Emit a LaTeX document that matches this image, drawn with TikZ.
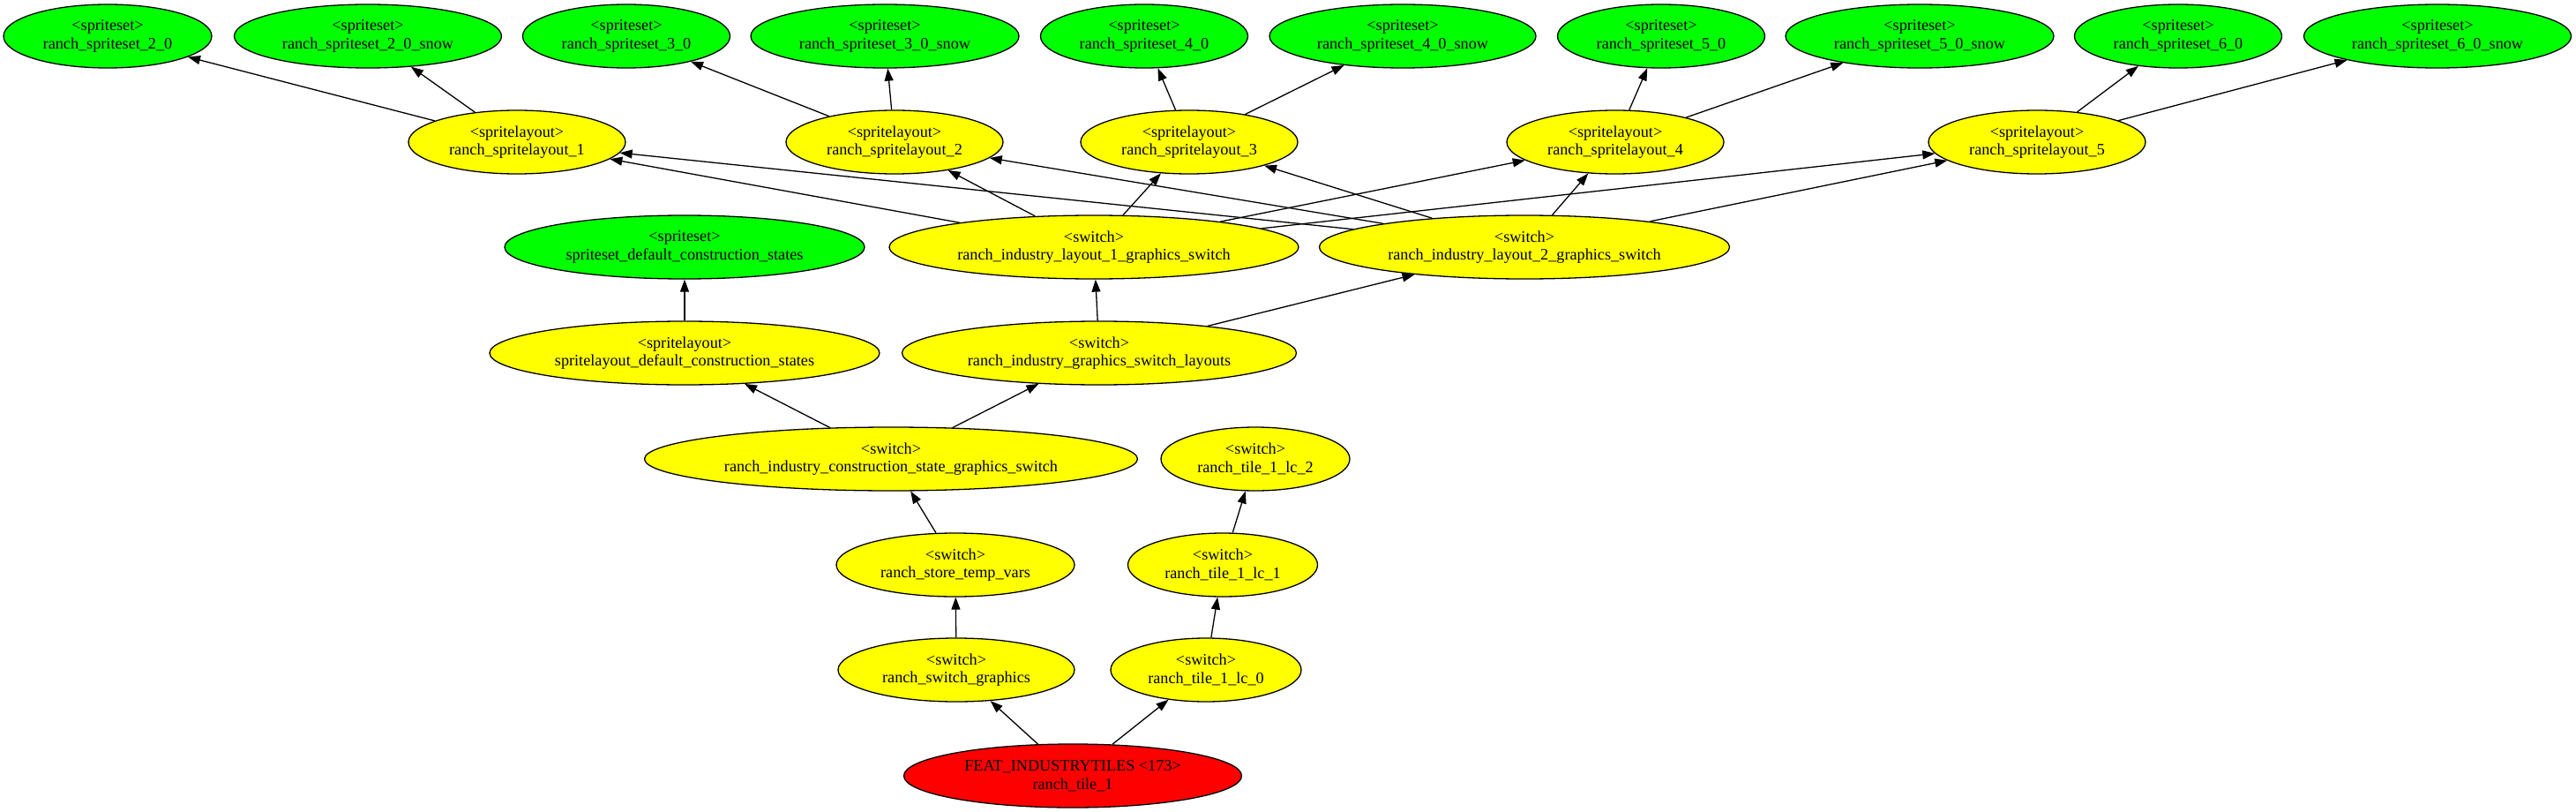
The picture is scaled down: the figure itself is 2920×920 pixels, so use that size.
\documentclass[tikz,border=0pt]{standalone}
\usepackage{fontspec}
\setmainfont{Liberation Serif}
\usetikzlibrary{shapes.geometric,arrows.meta}
\tikzset{
  gnode/.style={ellipse, draw=black, line width=1.3pt, inner sep=0pt, minimum height=72pt, align=center, font=\fontsize{18.2}{20.5}\selectfont},
  sset/.style={gnode, fill={rgb,255:red,0;green,255;blue,0}},
  sw/.style={gnode, fill={rgb,255:red,255;green,255;blue,0}},
  rootn/.style={gnode, fill={rgb,255:red,255;green,0;blue,0}},
  edge/.style={draw=black, line width=1.3pt, -{Triangle[length=14pt,width=10pt]}}
}
\begin{document}
\begin{tikzpicture}[x=1pt,y=-1pt]
\useasboundingbox (0,0) rectangle (2920,920);
% row 1
\node[sset, minimum width=236pt] (ss20) at (122,41) {<spriteset>\\ranch\_spriteset\_2\_0};
\node[sset, minimum width=303pt] (ss20s) at (417,41) {<spriteset>\\ranch\_spriteset\_2\_0\_snow};
\node[sset, minimum width=235pt] (ss30) at (710,41) {<spriteset>\\ranch\_spriteset\_3\_0};
\node[sset, minimum width=304pt] (ss30s) at (1003,41) {<spriteset>\\ranch\_spriteset\_3\_0\_snow};
\node[sset, minimum width=235pt] (ss40) at (1297,41) {<spriteset>\\ranch\_spriteset\_4\_0};
\node[sset, minimum width=302pt] (ss40s) at (1590,41) {<spriteset>\\ranch\_spriteset\_4\_0\_snow};
\node[sset, minimum width=235pt] (ss50) at (1883,41) {<spriteset>\\ranch\_spriteset\_5\_0};
\node[sset, minimum width=304pt] (ss50s) at (2176,41) {<spriteset>\\ranch\_spriteset\_5\_0\_snow};
\node[sset, minimum width=235pt] (ss60) at (2469,41) {<spriteset>\\ranch\_spriteset\_6\_0};
\node[sset, minimum width=303pt] (ss60s) at (2763,41) {<spriteset>\\ranch\_spriteset\_6\_0\_snow};
% row 2
\node[sw, minimum width=246pt] (sl1) at (586,161) {<spritelayout>\\ranch\_spritelayout\_1};
\node[sw, minimum width=246pt] (sl2) at (1014,161) {<spritelayout>\\ranch\_spritelayout\_2};
\node[sw, minimum width=246pt] (sl3) at (1348,161) {<spritelayout>\\ranch\_spritelayout\_3};
\node[sw, minimum width=246pt] (sl4) at (1831,161) {<spritelayout>\\ranch\_spritelayout\_4};
\node[sw, minimum width=246pt] (sl5) at (2309,161) {<spritelayout>\\ranch\_spritelayout\_5};
% row 3
\node[sset, minimum width=408pt] (ssdef) at (776,280) {<spriteset>\\spriteset\_default\_construction\_states};
\node[sw, minimum width=464pt] (ils1) at (1240,280) {<switch>\\ranch\_industry\_layout\_1\_graphics\_switch};
\node[sw, minimum width=465pt] (ils2) at (1728,280) {<switch>\\ranch\_industry\_layout\_2\_graphics\_switch};
% row 4
\node[sw, minimum width=442pt] (sldef) at (776,400) {<spritelayout>\\spritelayout\_default\_construction\_states};
\node[sw, minimum width=447pt] (igsl) at (1246,400) {<switch>\\ranch\_industry\_graphics\_switch\_layouts};
% row 5
\node[sw, minimum width=559pt] (icsgs) at (1010,520) {<switch>\\ranch\_industry\_construction\_state\_graphics\_switch};
\node[sw, minimum width=214pt] (lc2) at (1423,520) {<switch>\\ranch\_tile\_1\_lc\_2};
% row 6
\node[sw, minimum width=270pt] (stv) at (1083,640) {<switch>\\ranch\_store\_temp\_vars};
\node[sw, minimum width=215pt] (lc1) at (1386,640) {<switch>\\ranch\_tile\_1\_lc\_1};
% row 7
\node[sw, minimum width=268pt] (sg) at (1084,759) {<switch>\\ranch\_switch\_graphics};
\node[sw, minimum width=216pt] (lc0) at (1367,759) {<switch>\\ranch\_tile\_1\_lc\_0};
% row 8
\node[rootn, minimum width=383pt] (root) at (1216,879) {FEAT\_INDUSTRYTILES <173>\\ranch\_tile\_1};
% edges
\draw[edge] (sl1) -- (ss20);
\draw[edge] (sl1) -- (ss20s);
\draw[edge] (sl2) -- (ss30);
\draw[edge] (sl2) -- (ss30s);
\draw[edge] (sl3) -- (ss40);
\draw[edge] (sl3) -- (ss40s);
\draw[edge] (sl4) -- (ss50);
\draw[edge] (sl4) -- (ss50s);
\draw[edge] (sl5) -- (ss60);
\draw[edge] (sl5) -- (ss60s);
\draw[edge] (ils1) -- (sl1);
\draw[edge] (ils1) -- (sl2);
\draw[edge] (ils1) -- (sl3);
\draw[edge] (ils1) -- (sl4);
\draw[edge] (ils1) -- (sl5);
\draw[edge] (ils2) -- (sl1);
\draw[edge] (ils2) -- (sl2);
\draw[edge] (ils2) -- (sl3);
\draw[edge] (ils2) -- (sl4);
\draw[edge] (ils2) -- (sl5);
\draw[edge] (sldef) -- (ssdef);
\draw[edge] (igsl) -- (ils1);
\draw[edge] (igsl) -- (ils2);
\draw[edge] (icsgs) -- (sldef);
\draw[edge] (icsgs) -- (igsl);
\draw[edge] (stv) -- (icsgs);
\draw[edge] (sg) -- (stv);
\draw[edge] (root) -- (sg);
\draw[edge] (root) -- (lc0);
\draw[edge] (lc0) -- (lc1);
\draw[edge] (lc1) -- (lc2);
\end{tikzpicture}
\end{document}
